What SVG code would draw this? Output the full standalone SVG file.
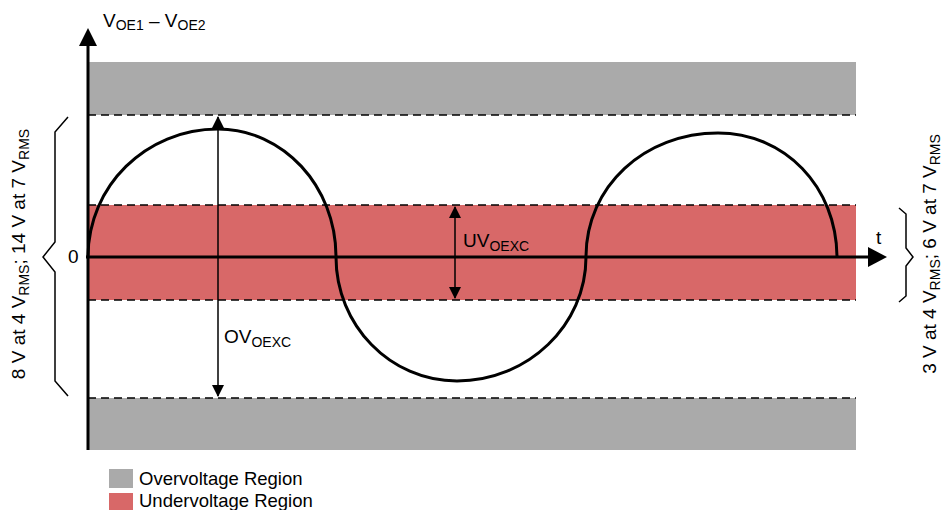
<svg xmlns="http://www.w3.org/2000/svg" width="942" height="510" viewBox="0 0 942 510">
<style>
text{font-family:"Liberation Sans",Arial,sans-serif;fill:#000}
.lbl{font-size:19px}
.leg{font-size:18.5px}
.sub{font-size:14px}
.ov{fill:#AAAAAA}
.uv{fill:#D86868}
.dash{stroke:#000;stroke-width:1.5;stroke-dasharray:8,5;fill:none}
.axis{stroke:#000;stroke-width:3;fill:none}
.thin{stroke:#000;stroke-width:1.5;fill:none}
.brace{stroke:#000;stroke-width:1.5;fill:none}
</style>
<defs>
<marker id="ah" viewBox="0 0 12 12" refX="11" refY="6" markerWidth="12" markerHeight="12" markerUnits="userSpaceOnUse" orient="auto-start-reverse">
<path d="M0,0 L12,6 L0,12 Z" fill="#000"/>
</marker>
</defs>
<g id="regions">
<rect class="ov" x="88" y="62" width="768" height="53"/>
<rect class="uv" x="88" y="205" width="768" height="95"/>
<rect class="ov" x="88" y="398" width="768" height="52"/>
<line class="dash" x1="88" y1="115" x2="856" y2="115"/>
<line class="dash" x1="88" y1="205" x2="856" y2="205"/>
<line class="dash" x1="88" y1="300" x2="856" y2="300"/>
<line class="dash" x1="88" y1="398" x2="856" y2="398"/>
</g>
<g id="axes">
<line class="axis" x1="88" y1="44" x2="88" y2="450"/>
<path d="M88,28 L97,46 L79,46 Z" fill="#000"/>
<line class="axis" x1="86" y1="257" x2="870" y2="257"/>
<path d="M887,257 L868,247 L868,267 Z" fill="#000"/>
</g>
<g id="wave">
<path class="axis" d="M88,257 C88,186 146,129 218,129 C283,129 336,186 336,257 C336,325 390,381 457,381 C528,381 586,325 586,257 C586,186 645,133 718,133 C784,133 837,186 837,258"/>
</g>
<g id="connectors">
<line class="thin" x1="218" y1="117" x2="218" y2="396" marker-start="url(#ah)" marker-end="url(#ah)"/>
<line class="thin" x1="455" y1="207" x2="455" y2="298" marker-start="url(#ah)" marker-end="url(#ah)"/>
</g>
<g id="braces">
<path class="brace" d="M68,117 L55,132 L55,242 L43,257 L55,272 L55,381 L68,396"/>
<path class="brace" d="M899,208 L906,214 L906,248 L913,257 L906,266 L906,296 L899,302"/>
</g>
<g id="labels">
<text class="lbl" x="103" y="27">V<tspan class="sub" dy="3">OE1</tspan><tspan dy="-3"> – V</tspan><tspan class="sub" dy="3">OE2</tspan></text>
<text class="lbl" x="68" y="263">0</text>
<text class="lbl" x="876" y="244">t</text>
<text class="lbl" x="463" y="247">UV<tspan class="sub" dy="4">OEXC</tspan></text>
<text class="lbl" x="224" y="343">OV<tspan class="sub" dy="4">OEXC</tspan></text>
<text class="lbl" transform="translate(25,254) rotate(-90)" text-anchor="middle">8 V at 4 V<tspan class="sub" dy="4">RMS</tspan><tspan dy="-4">; 14 V at 7 V</tspan><tspan class="sub" dy="4">RMS</tspan></text>
<text class="lbl" transform="translate(936,254) rotate(-90)" text-anchor="middle">3 V at 4 V<tspan class="sub" dy="4">RMS</tspan><tspan dy="-4">; 6 V at 7 V</tspan><tspan class="sub" dy="4">RMS</tspan></text>
</g>
<g id="legend">
<rect class="ov" x="109" y="469" width="24" height="19"/>
<text class="leg" x="139" y="485">Overvoltage Region</text>
<rect class="uv" x="109" y="493" width="24" height="19"/>
<text class="leg" x="139" y="507">Undervoltage Region</text>
</g>
</svg>
